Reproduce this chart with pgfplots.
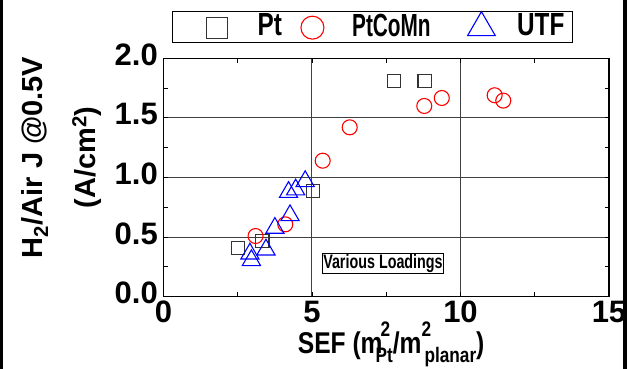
\documentclass[border=0pt]{standalone}
\usepackage{fontspec}
\setmainfont{Liberation Sans}
\newfontfamily\condfont{Liberation Sans}[FakeStretch=0.82]
\newfontfamily\legfont{Liberation Sans}[FakeStretch=0.76]
\newfontfamily\tightfont{Liberation Sans}[FakeStretch=0.65]
\newfontfamily\vlfont{Liberation Sans}[FakeStretch=0.735]
\usepackage{pgfplots}
\pgfplotsset{compat=1.18}
\newcommand\supp[1]{\raisebox{17pt}{\fontsize{21}{21}\selectfont #1}}
\newcommand\subb[1]{\raisebox{-9.5pt}{\fontsize{21}{21}\selectfont #1}}
\pgfplotsset{
  legA/.style={legend image code/.code={\path[draw=none,fill=none] (0pt,-14.5pt) rectangle (85.6pt,16.2pt);
    \draw[##1, mark size=10.5pt] plot coordinates {(45pt,0pt)};}},
  legB/.style={legend image code/.code={\path[draw=none,fill=none] (0pt,-14.5pt) rectangle (64.4pt,16.2pt);
    \draw[##1, mark size=11.5pt] plot coordinates {(24.7pt,0pt)};}},
  legC/.style={legend image code/.code={\path[draw=none,fill=none] (0pt,-14.5pt) rectangle (65pt,16.2pt);
    \draw[##1, mark size=16pt] plot coordinates {(29.3pt,0pt)};}},
}

\pgfplotstableread{
x y
2.52 0.406
3.33 0.470
5.04 0.887
7.77 1.807
8.79 1.812
}\ptdata
\pgfplotstableread{
x y
3.10 0.509
4.10 0.607
5.36 1.141
6.27 1.421
8.78 1.600
9.37 1.667
11.15 1.690
11.44 1.645
}\ptcomndata
\pgfplotstableread{
x y
2.91 0.360
2.96 0.305
3.45 0.394
3.75 0.576
4.26 0.682
4.21 0.877
4.45 0.898
4.77 0.968
}\utfdata

\begin{document}
\begin{tikzpicture}
\useasboundingbox (-163.5pt,-72.3pt) rectangle (465.5pt,296.7pt);
\begin{axis}[
  at={(0,0)}, anchor=south west,
  scale only axis, width=445.5pt, height=238.4pt,
  xmin=0, xmax=15, ymin=0, ymax=2,
  xtick={0,5,10,15},
  ytick={0,0.5,1,1.5,2},
  yticklabels={0.0,0.5,1.0,1.5,2.0},
  minor x tick num=1, minor y tick num=1,
  tick align=inside,
  major tick length=4.5pt, minor tick length=4.5pt,
  grid=major,
  major grid style={draw=black!75, line width=1pt},
  axis line style={line width=1.3pt},
  every tick/.style={black, line width=0.8pt},
  /pgf/number format/assume math mode=true,
  ticklabel style={font=\fontsize{31}{31}\selectfont\bfseries, inner sep=0pt},
  yticklabel style={xshift=-5.5pt, yshift=3.5pt},
  xticklabel style={yshift=-4pt},
  xlabel={SEF (m\kern-2pt\rlap{\supp{2}}\kern-5pt\subb{Pt}/m\rlap{\supp{2}}\kern3pt\subb{planar})},
  xlabel style={at={(axis description cs:0.511,-0.237)}, anchor=base, inner sep=0pt,
    font=\fontsize{30}{30}\condfont\bfseries},
  ylabel={H\textsubscript{2}/Air J @0.5V\\(A/cm\textsuperscript{2})},
  ylabel style={at={(axis description cs:-0.229,0.584)}, anchor=center, align=center,
    inner sep=0pt, font=\fontsize{29}{53}\selectfont\bfseries},
  legend columns=3,
  legend cell align=left,
  legend style={at={(0.0184,1.1984)}, anchor=north west, draw=black, line width=0.9pt,
    inner xsep=0pt, inner ysep=0pt, column sep=0pt,
    font=\fontsize{32}{34}\legfont\bfseries},
  clip=false,
]
\addplot[only marks, mark=square, mark size=6.6pt, draw=black!80,
  mark options={line width=1.1pt}, legA]
  table[x=x,y=y] {\ptdata};
\addlegendentry[text width=30pt, align=left, inner sep=0pt, yshift=2pt]{Pt}
\addplot[only marks, mark=o, mark size=7.5pt, draw=red,
  mark options={line width=1.1pt}, legB]
  table[x=x,y=y] {\ptcomndata};
\addlegendentry[text width=100pt, align=left, inner sep=0pt, yshift=2pt]{\tightfont\bfseries PtCoMn}
\addplot[only marks, mark=triangle, mark size=10.5pt, draw=blue,
  mark options={line width=1.1pt}, legC]
  table[x=x,y=y] {\utfdata};
\addlegendentry[text width=55pt, align=left, inner sep=0pt, yshift=2pt]{UTF}
\node[draw=black, line width=0.8pt, fill=white, inner xsep=1pt, inner ysep=0.5pt,
  font=\fontsize{19.5}{20}\vlfont\bfseries] at (axis cs:7.39,0.28) {Various Loadings};
\end{axis}
\draw[line width=2.7pt] (-162.2pt,-72.3pt) -- (-162.2pt,296.7pt);
\fill[white] (463.5pt,-72.3pt) rectangle (466pt,296.7pt);
\draw[line width=3.5pt] (461.5pt,-72.3pt) -- (461.5pt,296.7pt);
\end{tikzpicture}
\end{document}
